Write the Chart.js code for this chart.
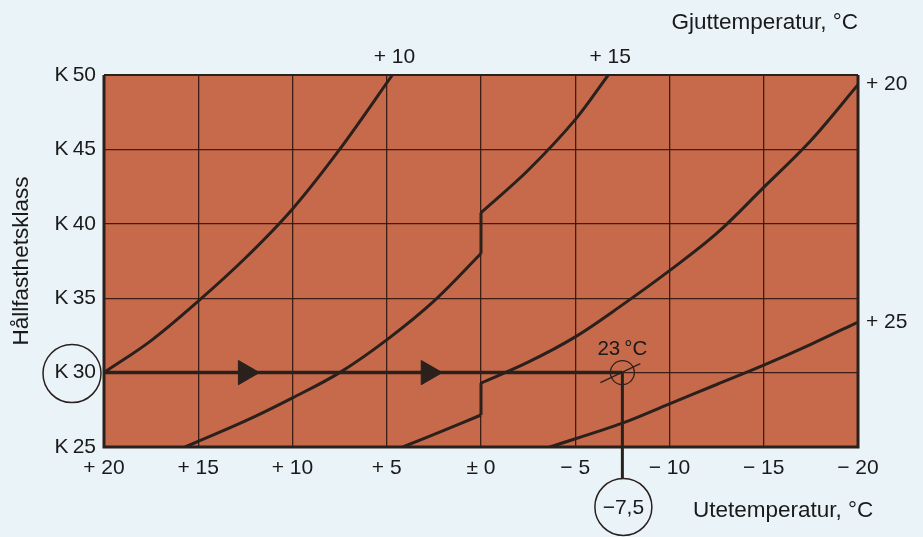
<!DOCTYPE html>
<html>
<head>
<meta charset="utf-8">
<script src="https://cdn.jsdelivr.net/npm/chart.js@4.4.0/dist/chart.umd.min.js"></script>
<style>
  html, body { margin: 0; padding: 0; background: #e9f3f8; }
  canvas { display: block; }
</style>
</head>
<body>
<canvas id="chart" width="923" height="537"></canvas>
<script>
// x = utetemperatur (°C), y = hållfasthetsklass (K)
const xTicks = [20, 15, 10, 5, 0, -5, -10, -15, -20];
const xTickLabels = ["+ 20", "+ 15", "+ 10", "+ 5", "± 0", "− 5", "− 10", "− 15", "− 20"];
const yTicks = [25, 30, 35, 40, 45, 50];
const yTickLabels = ["K\u200925", "K\u200930", "K\u200935", "K\u200940", "K\u200945", "K\u200950"];

// one curve per gjuttemperatur, split where it jumps at ±0
const curve10 = [
  { x: 20, y: 30 }, { x: 17.5, y: 32.15 }, { x: 15, y: 34.8 }, { x: 12.5, y: 37.7 },
  { x: 10, y: 41.0 }, { x: 7.5, y: 45 }, { x: 4.7, y: 50 }
];
const curve15Low = [
  { x: 15.7, y: 25 }, { x: 12.5, y: 26.75 }, { x: 10, y: 28.3 },
  { x: 7.5, y: 30 }, { x: 5, y: 32.2 }, { x: 2.5, y: 34.8 }, { x: 0, y: 38.0 }
];
const curve15High = [
  { x: 0, y: 40.75 }, { x: -2.5, y: 43.6 }, { x: -5, y: 47 }, { x: -6.75, y: 50 }
];
const curve20Low = [
  { x: 4.15, y: 25 }, { x: 2, y: 26.1 }, { x: 0, y: 27.15 }
];
const curve20High = [
  { x: 0, y: 29.3 }, { x: -2.5, y: 30.7 }, { x: -5, y: 32.4 }, { x: -7.5, y: 34.55 },
  { x: -10, y: 36.85 }, { x: -12.5, y: 39.35 }, { x: -15, y: 42.45 }, { x: -17.5, y: 45.6 }, { x: -20, y: 49.35 }
];
const curve25 = [
  { x: -3.65, y: 25 }, { x: -7.5, y: 26.6 }, { x: -10, y: 27.9 },
  { x: -12.5, y: 29.2 }, { x: -15, y: 30.5 }, { x: -17.5, y: 31.9 }, { x: -20, y: 33.4 }
];
const curveLabels = ["+ 10", "+ 15", "+ 20", "+ 25"];

// worked example: K 30 at -7,5 °C outside -> 23 °C cast temperature
const exampleK = 30;
const exampleOutdoor = -7.5;
const exampleStart = 20;
const exampleCast = "23\u2009°C";
const exampleOutdoorLabel = "−7,5";
const arrowCenters = [12.5, 2.8];

const ink = "#2a201c";
const textColor = "#1a1a1a";
const font = "'Liberation Sans', Arial, sans-serif";

function curveSet(data) {
  return {
    data: data,
    showLine: true,
    borderColor: ink,
    borderWidth: 3,
    pointRadius: 0,
    tension: 0.35
  };
}
function jumpSet(low, high) {
  return {
    data: [low[low.length - 1], high[0]],
    showLine: true,
    borderColor: ink,
    borderWidth: 3,
    pointRadius: 0,
    tension: 0
  };
}

const decor = {
  id: "decor",
  beforeDraw(chart) {
    const { ctx, chartArea: a } = chart;
    ctx.save();
    ctx.fillStyle = "#e9f3f8";
    ctx.fillRect(0, 0, chart.width, chart.height);
    ctx.fillStyle = "#c76a4b";
    ctx.fillRect(a.left, a.top, a.right - a.left, a.bottom - a.top);
    ctx.restore();
  },
  afterDraw(chart) {
    const { ctx, chartArea: a, scales } = chart;
    const sx = scales.x, sy = scales.y;
    ctx.save();

    // frame
    ctx.strokeStyle = ink;
    ctx.lineWidth = 3;
    ctx.beginPath();
    ctx.moveTo(a.left, a.top);
    ctx.lineTo(a.left, a.bottom);
    ctx.lineTo(a.right, a.bottom);
    ctx.lineTo(a.right, a.top);
    ctx.stroke();
    ctx.lineWidth = 2;
    ctx.beginPath();
    ctx.moveTo(a.left, a.top);
    ctx.lineTo(a.right, a.top);
    ctx.stroke();

    // gjuttemperatur labels at curve ends
    ctx.fillStyle = textColor;
    ctx.font = "21px " + font;
    const ends = [curve10, curve15High, curve20High, curve25];
    ends.forEach((c, i) => {
      const p = c[c.length - 1];
      const px = sx.getPixelForValue(p.x), py = sy.getPixelForValue(p.y);
      ctx.textBaseline = "middle";
      if (p.y >= sy.max) {
        ctx.textAlign = "center";
        ctx.fillText(curveLabels[i], px + 2, a.top - 18);
      } else {
        ctx.textAlign = "left";
        ctx.fillText(curveLabels[i], a.right + 8, py);
      }
    });

    // axis titles
    ctx.font = "22.5px " + font;
    ctx.textAlign = "right";
    ctx.fillText("Gjuttemperatur, °C", a.right, 23);
    ctx.textAlign = "left";
    ctx.fillText("Utetemperatur, °C", 693, 511);
    ctx.save();
    ctx.translate(22, 261);
    ctx.rotate(-Math.PI / 2);
    ctx.textAlign = "center";
    ctx.fillText("Hållfasthetsklass", 0, 0);
    ctx.restore();

    // worked example marks
    const ex = sx.getPixelForValue(exampleOutdoor);
    const ey = sy.getPixelForValue(exampleK);
    ctx.strokeStyle = ink;
    ctx.lineWidth = 1.5;
    ctx.beginPath();
    ctx.arc(72, ey + 1, 29, 0, Math.PI * 2);
    ctx.stroke();

    ctx.lineWidth = 1.3;
    ctx.beginPath();
    ctx.arc(ex, ey, 12, 0, Math.PI * 2);
    ctx.stroke();
    ctx.beginPath();
    ctx.moveTo(ex - 22, ey + 10);
    ctx.lineTo(ex + 18, ey - 9);
    ctx.stroke();

    ctx.textAlign = "center";
    ctx.font = "20.5px " + font;
    ctx.fillText(exampleCast, ex, ey - 23);

    const cy = a.bottom + 60, r = 28.5;
    ctx.lineWidth = 3;
    ctx.beginPath();
    ctx.moveTo(ex, ey);
    ctx.lineTo(ex, cy - r);
    ctx.stroke();
    ctx.lineWidth = 1.5;
    ctx.beginPath();
    ctx.arc(ex + 1, cy, r, 0, Math.PI * 2);
    ctx.stroke();
    ctx.font = "21px " + font;
    ctx.fillText(exampleOutdoorLabel, ex + 1, cy + 1);

    ctx.restore();
  }
};

new Chart(document.getElementById("chart"), {
  type: "scatter",
  data: {
    datasets: [
      curveSet(curve10),
      curveSet(curve15Low), jumpSet(curve15Low, curve15High), curveSet(curve15High),
      curveSet(curve20Low), jumpSet(curve20Low, curve20High), curveSet(curve20High),
      curveSet(curve25),
      {
        data: [{ x: exampleStart, y: exampleK }, { x: exampleOutdoor, y: exampleK }],
        showLine: true,
        borderColor: ink,
        borderWidth: 3.5,
        pointRadius: 0
      },
      {
        data: arrowCenters.map(v => ({ x: v, y: exampleK })),
        showLine: false,
        pointStyle: "triangle",
        rotation: 90,
        pointRadius: 14,
        backgroundColor: ink,
        borderColor: ink,
        borderWidth: 1
      }
    ]
  },
  options: {
    responsive: false,
    animation: false,
    layout: { padding: { left: 0, top: 75, right: 65, bottom: 0 } },
    plugins: { legend: { display: false }, tooltip: { enabled: false } },
    scales: {
      x: {
        type: "linear",
        min: -20,
        max: 20,
        reverse: true,
        afterFit: s => { s.height = 90; },
        afterBuildTicks: s => { s.ticks = xTicks.map(v => ({ value: v })); },
        ticks: {
          padding: 9,
          color: textColor,
          font: { size: 21, family: font },
          callback: v => xTickLabels[xTicks.indexOf(v)]
        },
        grid: { color: "rgba(45,22,15,0.9)", lineWidth: 1.3, drawTicks: false },
        border: { display: false }
      },
      y: {
        min: 25,
        max: 50,
        afterFit: s => { s.width = 104; },
        afterBuildTicks: s => { s.ticks = yTicks.map(v => ({ value: v })); },
        ticks: {
          padding: 8,
          color: textColor,
          font: { size: 21, family: font },
          callback: v => yTickLabels[yTicks.indexOf(v)]
        },
        grid: { color: "rgba(45,22,15,0.9)", lineWidth: 1.3, drawTicks: false },
        border: { display: false }
      }
    }
  },
  plugins: [decor]
});
</script>
</body>
</html>
